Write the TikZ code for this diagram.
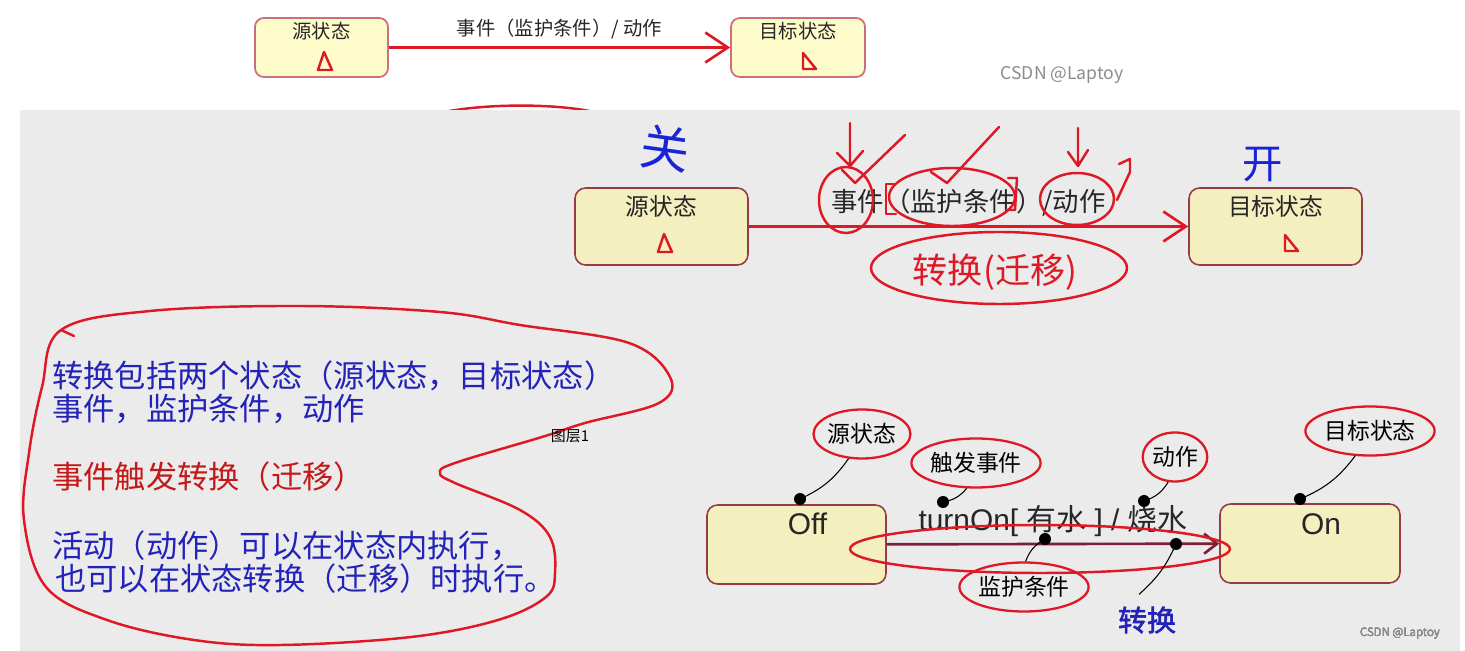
\documentclass[tikz,border=0pt]{standalone}
\usepackage{fontspec}
\setmainfont{Noto Sans CJK SC}[AutoFakeBold=2]
\newfontfamily\arialish{Liberation Sans}
\usetikzlibrary{arrows.meta,positioning,calc,shapes.geometric}
\definecolor{topFill}{RGB}{255,252,204}
\definecolor{topLine}{RGB}{205,110,120}
\definecolor{stateFill}{RGB}{244,239,190}
\definecolor{stateLine}{RGB}{150,60,70}
\definecolor{penRed}{RGB}{222,24,36}
\definecolor{penBlue}{RGB}{25,35,215}
\definecolor{noteBlue}{RGB}{35,35,185}
\definecolor{noteRed}{RGB}{195,25,25}
\definecolor{slideGray}{RGB}{235,235,235}
\definecolor{transDark}{RGB}{125,30,55}
\tikzset{
  topbox/.style={draw=topLine, fill=topFill, line width=1pt, rounded corners=5pt},
  statebox/.style={draw=stateLine, fill=stateFill, line width=0.9pt, rounded corners=6pt},
  statename/.style={font=#1, inner sep=0pt, text=black!85},
  penln/.style={penRed, line width=1.4pt, line cap=round, line join=round},
  transln/.style={-{Straight Barb[length=4.5mm,width=6mm]}, line width=1.5pt, penRed},
  offonln/.style={-{Straight Barb[length=2.6mm,width=4mm]}, line width=1.5pt, transDark},
  notetext/.style={anchor=west, inner sep=0pt, text=noteBlue,
    font=\fontsize{17.8}{20}\selectfont},
  callout/.style={ellipse, draw=penRed, line width=1.3pt, inner sep=0pt,
    minimum height=0.98cm, font=\fontsize{13}{15}\selectfont},
  calloutln/.style={black, line width=0.6pt},
  wmark/.style={text=black!45, inner sep=0pt, font=#1},
}
\newcommand{\hookdot}[1]{\fill[black] #1 circle (6);}
\newcommand{\redtri}[1]{\draw[penln] ($#1+(-7,9)$) -- ($#1+(-1,-9)$) -- ($#1+(7,9)$) -- cycle;}
\newcommand{\redwedge}[1]{\draw[penln] ($#1+(-5,-8)$) -- ($#1+(-5,8)$) -- ($#1+(8,8)$) -- cycle;}
\begin{document}
\begin{tikzpicture}[x=0.02cm, y=-0.02cm]
  \useasboundingbox (0,0) rectangle (1465,651);
  \fill[white] (0,0) rectangle (1465,651);
  % top strip: the plain transition
  \node[topbox, minimum width=2.66cm, minimum height=1.18cm] (srcA) at (321.5,47.5) {};
  \node[topbox, minimum width=2.68cm, minimum height=1.18cm] (tgtA) at (798,47.5) {};
  \node[statename=\fontsize{11}{12}\selectfont] at ($(srcA.north)+(0,14)$) {源状态};
  \node[statename=\fontsize{11}{12}\selectfont] at ($(tgtA.north)+(0,14)$) {目标状态};
  \redtri{(325,61)}
  \redwedge{(808,61)}
  \draw[transln] (srcA) -- node[above=1pt, text=black!85, font=\fontsize{11}{12}\selectfont] {事件（监护条件）/ 动作} (tgtA);
  \node[wmark=\fontsize{10}{11}\selectfont] at (1062,75) {CSDN @Laptoy};
  \draw[penln] (428,116) .. controls (470,103) and (560,102) .. (602,114);
  % grey slide below
  \fill[slideGray] (20,110) rectangle (1460,651);
  % slide: annotated transition
  \node[statebox, minimum width=3.46cm, minimum height=1.54cm] (srcB) at (661.5,226.5) {};
  \node[statebox, minimum width=3.46cm, minimum height=1.54cm] (tgtB) at (1275.5,226.5) {};
  \node[statename=\fontsize{13.5}{15}\selectfont] at ($(srcB.north)+(0,19)$) {源状态};
  \node[statename=\fontsize{13.5}{15}\selectfont] at ($(tgtB.north)+(0,19)$) {目标状态};
  \redtri{(665,243)}
  \redwedge{(1290,243)}
  \draw[transln] (srcB) -- node[above=2pt, text=black!85, font=\fontsize{15}{16}\selectfont] {事件（监护条件）/动作} (tgtB);
  % pen marks on it
  \node[text=penBlue, font=\fontsize{28}{30}\selectfont, rotate=-8] at (665,148) {关};
  \node[text=penBlue, font=\fontsize{23}{25}\selectfont] at (1263,165) {开};
  \draw[penln] (846,200) ellipse [x radius=27, y radius=33];
  \draw[penln] (952,197) ellipse [x radius=63, y radius=29];
  \draw[penln] (1077,199) ellipse [x radius=37, y radius=26];
  \draw[penln] (850,123) -- (850,165) (837,153) -- (850,166) -- (863,151);
  \draw[penln] (1078,128) -- (1078,165) (1068,152) -- (1078,166) -- (1088,150);
  \draw[penln] (842,170) -- (855,183) -- (905,135);
  \draw[penln] (931,172) -- (947,183) -- (999,127);
  \draw[penln] (1119,164) -- (1130,159) -- (1130,172) -- (1117,200);
  \draw[penln] (894,184) -- (886,184) -- (886,214) -- (896,214);
  \draw[penln] (1008,178) -- (1017,178) -- (1015,210) -- (1006,210);
  \draw[penln] (999,268) ellipse [x radius=128, y radius=36];
  \node[text=penRed, font=\fontsize{20}{22}\selectfont] at (995,272) {转换(迁移)};
  % notes on the left
  \node[notetext] (nt1) at (52,376) {转换包括两个状态（源状态，目标状态）};
  \node[notetext] (nt2) at (52,409) {事件，监护条件，动作};
  \node[notetext, text=noteRed] (nt3) at (52,477) {事件触发转换（迁移）};
  \node[notetext] (nt4) at (52,546) {活动（动作）可以在状态内执行，};
  \node[notetext] (nt5) at (55,579) {也可以在状态转换（迁移）时执行。};
  \draw[penln] plot[smooth cycle, tension=0.6] coordinates {(61,330) (150,311) (300,306)
    (440,312) (520,325) (629,343) (670,377) (659,403) (585,423) (542,437) (455,463)
    (440,473) (455,483) (520,510) (550,537) (555,573) (546,597) (498,620) (411,637)
    (281,645) (194,640) (107,620) (46,587) (24,520) (29,453) (42,387)};
  \draw[penln] (61,330) -- (74,336);
  \node[inner sep=0pt, font=\fontsize{8.5}{9}\selectfont] at (570,436) {图层1};
  % kettle example
  \node[statebox, minimum width=3.58cm, minimum height=1.58cm] (offB) at (796.5,544.5) {};
  \node[statebox, minimum width=3.6cm, minimum height=1.58cm] (onB) at (1310,543.5) {};
  \node[statename=\fontsize{17}{18}\selectfont\arialish] at ($(offB.north)+(11,20)$) {Off};
  \node[statename=\fontsize{17}{18}\selectfont\arialish] at ($(onB.north)+(11,21)$) {On};
  \draw[offonln] (offB) -- node[above=0pt, text=black!85, font=\fontsize{17}{18}\selectfont]
    {{\arialish turnOn[ }有水{\arialish\ ] / }烧水} (onB);
  \draw[penln] (1040,549) ellipse [x radius=190, y radius=24];
  % callouts
  \coordinate (dSrc) at (800,499);
  \coordinate (dEvt) at (943,502);
  \coordinate (dGrd) at (1045,539);
  \coordinate (dTrn) at (1176,544);
  \coordinate (dAct) at (1144,501);
  \coordinate (dTgt) at (1300,499);
  \node[callout] (lSrc) at (862,434) {源状态};
  \node[callout] (lEvt) at (976,463) {触发事件};
  \node[callout] (lAct) at (1175,457) {动作};
  \node[callout] (lTgt) at (1370,431) {目标状态};
  \node[callout] (lGrd) at (1024,587) {监护条件};
  \node[text=noteBlue, font=\fontsize{16.5}{18}\selectfont\bfseries] (lTrn) at (1147,620) {转换};
  \draw[calloutln] (dSrc) to[bend right=15] (lSrc);
  \draw[calloutln] (dEvt) to[bend right=20] (lEvt);
  \draw[calloutln] (dAct) to[bend right=20] (lAct);
  \draw[calloutln] (dTgt) to[bend right=15] (lTgt);
  \draw[calloutln] (dGrd) to[bend right=20] (lGrd);
  \draw[calloutln] (dTrn) to[bend left=12] ($(lTrn.north)+(-8,-6)$);
  \foreach \d in {dSrc,dEvt,dGrd,dTrn,dAct,dTgt} \hookdot{(\d)}
  \node[wmark=\fontsize{6.5}{7}\selectfont] at (1400,634) {CSDN @Laptoy};
\end{tikzpicture}
\end{document}
